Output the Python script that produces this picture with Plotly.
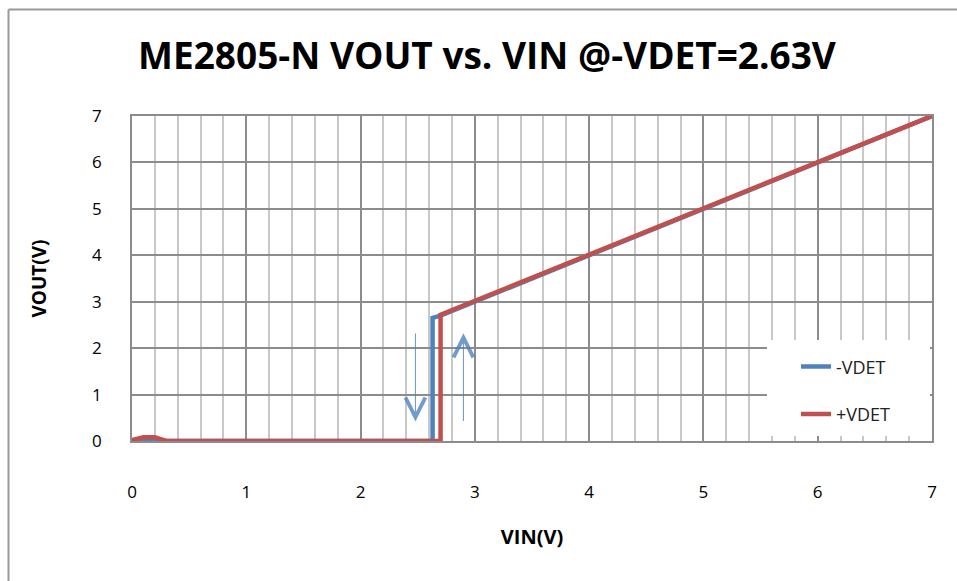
import plotly.graph_objects as go

# Data
minus_vin = [0, 2.63, 2.63, 2.70, 7]
minus_vout = [0, 0, 2.65, 2.70, 7]
plus_vin = [0, 0.1, 0.2, 0.3, 2.70, 2.70, 7]
plus_vout = [0.02, 0.08, 0.08, 0, 0, 2.72, 7]
x_ticks = [0, 1, 2, 3, 4, 5, 6, 7]
y_ticks = [0, 1, 2, 3, 4, 5, 6, 7]
# arrows: (x, y_tail, y_head)
down_arrow = (2.48, 2.35, 0.42)
up_arrow = (2.90, 0.40, 2.32)

BLUE = "#4F81BD"
RED = "#C0504D"
FONT = "Open Sans"

fig = go.Figure()
fig.add_trace(go.Scatter(x=minus_vin, y=minus_vout, mode="lines", name="-VDET",
                         line=dict(color=BLUE, width=4.5), legendgroup="a"))
fig.add_trace(go.Scatter(x=plus_vin, y=plus_vout, mode="lines", name="+VDET",
                         line=dict(color=RED, width=4.5), legendgroup="b"))

for (ax_, yt, yh) in [down_arrow, up_arrow]:
    fig.add_annotation(x=ax_, y=yh, ax=ax_, ay=yt, xref="x", yref="y", axref="x", ayref="y",
                       text="", showarrow=True, arrowhead=5, arrowsize=3.7, arrowwidth=1.05,
                       arrowcolor="rgba(79,129,189,0.8)")

# outer chart frame
fx = (8.5 - 132) / 800
fy = 1 + (116 - 9.5) / 325
fig.add_shape(type="line", xref="paper", yref="paper", x0=fx, x1=fx, y0=-1, y1=fy,
              line=dict(color="#9a9a9a", width=2))
fig.add_shape(type="line", xref="paper", yref="paper", x0=fx, x1=1.2, y0=fy, y1=fy,
              line=dict(color="#9a9a9a", width=2))
# legend area background
fig.add_shape(type="rect", xref="paper", yref="paper", layer="above",
              x0=(767 - 132) / 800, x1=(930 - 132) / 800, y0=(441 - 436) / 325, y1=(441 - 340) / 325,
              fillcolor="white", line=dict(width=0))

fig.update_layout(
    width=957, height=581,
    margin=dict(l=132, r=25, t=116, b=140),
    paper_bgcolor="white", plot_bgcolor="white",
    title=dict(text="<b>ME2805-N VOUT vs. VIN @-VDET=2.63V</b>", x=487 / 957, xanchor="center",
               y=1 - 56 / 581, yanchor="middle", yref="container",
               font=dict(family=FONT, size=37, color="black")),
    font=dict(family=FONT, color="black"),
    showlegend=True,
    legend=dict(x=(796 - 132) / 800, y=0.285, xanchor="left", yanchor="top",
                bgcolor="rgba(255,255,255,0)", borderwidth=0, traceorder="grouped", tracegroupgap=21,
                font=dict(family=FONT, size=18, color="#222")),
)
fig.update_xaxes(range=[0, 7], tickvals=x_ticks, ticktext=[str(v) for v in x_ticks],
                 showgrid=True, gridcolor="#8c8c8c", gridwidth=1.5,
                 minor=dict(dtick=0.2, showgrid=True, gridcolor="#c8c8c8", gridwidth=1.5),
                 showline=True, linecolor="#8c8c8c", linewidth=1.5, mirror=True,
                 zeroline=False, ticks="", ticklabelstandoff=35,
                 tickfont=dict(family=FONT, size=17, color="black"),
                 title=dict(text="<b>VIN(V)</b>", font=dict(family=FONT, size=20, color="black"), standoff=28))
fig.update_yaxes(range=[0, 7], tickvals=y_ticks, ticktext=[str(v) for v in y_ticks],
                 showgrid=True, gridcolor="#8c8c8c", gridwidth=1.5,
                 showline=True, linecolor="#8c8c8c", linewidth=1.5, mirror=True,
                 zeroline=False, ticks="", ticklabelstandoff=25,
                 tickfont=dict(family=FONT, size=17, color="black"),
                 title=dict(text="<b>VOUT(V)</b>", font=dict(family=FONT, size=19, color="black"), standoff=40))

fig.write_html("out.html", config={"displayModeBar": False})

with open("out.html", "r", encoding="utf-8") as f:
    html = f.read()
html = html.replace("<head>", "<head><style>html,body{margin:0;padding:0;overflow:hidden;}</style>", 1)
with open("out.html", "w", encoding="utf-8") as f:
    f.write(html)
